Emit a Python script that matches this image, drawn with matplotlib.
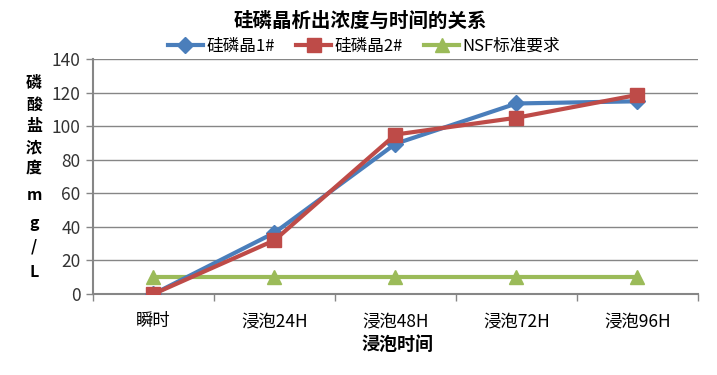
import matplotlib
matplotlib.use('Agg')
import matplotlib.pyplot as plt

plt.rcParams['font.family'] = ['Noto Sans CJK SC', 'DejaVu Sans']

categories = ['瞬时', '浸泡24H', '浸泡48H', '浸泡72H', '浸泡96H']
sample1 = [0, 36.5, 89.5, 113.5, 114.8]
sample2 = [0, 32, 95, 105, 118.6]
nsf = [10, 10, 10, 10, 10]
series_names = ['硅磷晶1#', '硅磷晶2#', 'NSF标准要求']
yticks = [0, 20, 40, 60, 80, 100, 120, 140]
ylabel_chars = ['磷', '酸', '盐', '浓', '度', 'm', 'g', '/', 'L']

fig = plt.figure(figsize=(7.17, 3.75), dpi=100)
ax = fig.add_axes([0.1297, 0.216, 0.8438, 0.6267])

x = list(range(len(categories)))
ax.plot(x, nsf, color='#9BBB59', lw=3, marker='^', ms=10, label=series_names[2], zorder=3)
ax.plot(x, sample1, color='#4A7EBB', lw=3, marker='D', ms=8, label=series_names[0], zorder=4)
ax.plot(x, sample2, color='#BE4B48', lw=3, marker='s', ms=10, label=series_names[1], zorder=5)

ax.set_xlim(-0.5, len(categories) - 0.5)
ax.set_ylim(0, 140)
ax.set_yticks(yticks)
ax.set_xticks(x)
ax.set_xticklabels(categories, fontsize=12.5)
ax.set_xticks([i + 0.5 for i in range(-1, len(categories))], minor=True)
ax.tick_params(axis='x', which='major', length=0, pad=13)
ax.tick_params(axis='x', which='minor', length=5, color='#868686', width=1)
ax.tick_params(axis='y', length=5, color='#868686', width=1, labelsize=12.5,
               labelcolor='#333333', pad=4)
ax.grid(axis='y', color='#868686', lw=1)
ax.set_axisbelow(True)
for s in ['top', 'right']:
    ax.spines[s].set_visible(False)
for s in ['left', 'bottom']:
    ax.spines[s].set_color('#868686')
    ax.spines[s].set_linewidth(1.5)

fig.text(398 / 717, 1 - 344 / 375, '浸泡时间', fontsize=13, fontweight='bold',
         ha='center', va='center')

# vertical stacked y label, one character per line
ypos = [83, 105, 126, 147, 168, 195, 223, 247, 272]
for ch, yp in zip(ylabel_chars, ypos):
    fig.text(34 / 717, 1 - yp / 375, ch, fontsize=11.5, fontweight='bold',
             ha='center', va='center')

fig.text(360 / 717, 1 - 21 / 375, '硅磷晶析出浓度与时间的关系', fontsize=14,
         fontweight='bold', ha='center', va='center')

handles, labels = ax.get_legend_handles_labels()
order = [1, 2, 0]
ax.legend([handles[i] for i in order], [labels[i] for i in order], ncol=3,
          loc='center', bbox_to_anchor=(364 / 717, 1 - 46 / 375),
          bbox_transform=fig.transFigure, frameon=False, fontsize=12,
          handlelength=2.1, columnspacing=1.3, handletextpad=0.2,
          borderaxespad=0, borderpad=0)

fig.savefig('out.png', dpi=100)
